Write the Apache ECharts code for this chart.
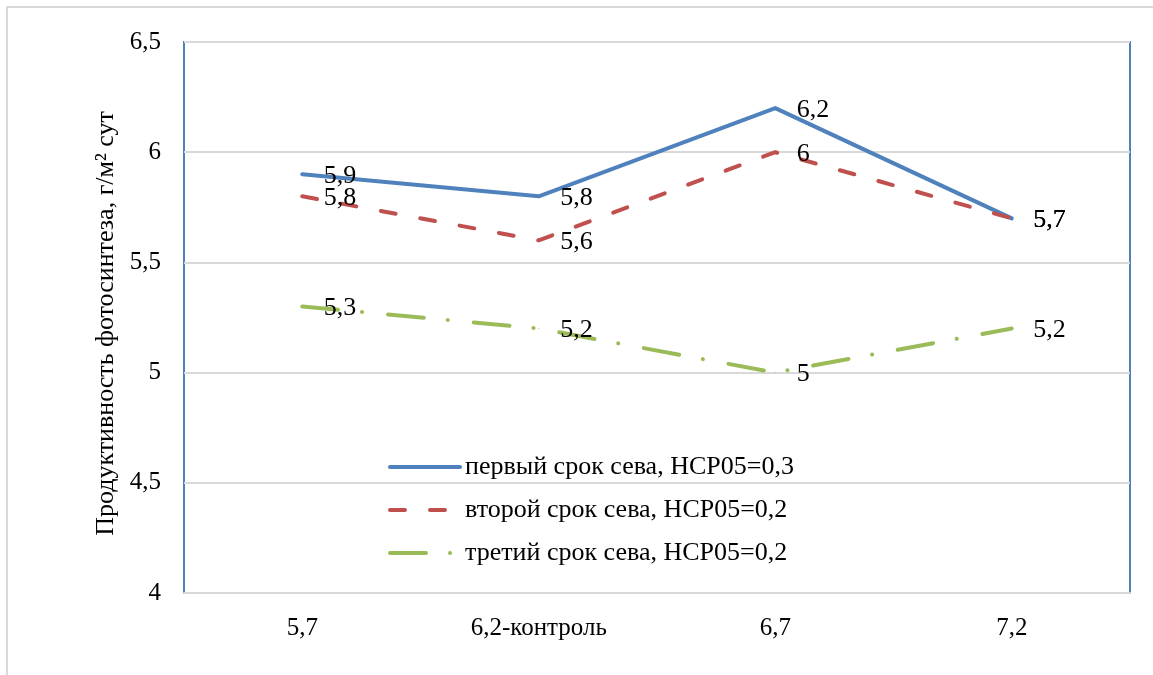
<!DOCTYPE html>
<html>
<head>
<meta charset="utf-8">
<script src="https://cdn.jsdelivr.net/npm/echarts@6/dist/echarts.min.js"></script>
<style>
  html, body { margin: 0; padding: 0; background: #fff; }
  #chart { width: 1153px; height: 675px; }
</style>
</head>
<body>
<div id="chart"></div>
<script>
// Row categories along the X axis
const categories = ['5,7', '6,2-контроль', '6,7', '7,2'];

// Series values, г/м² сут
const firstSowing = [5.9, 5.8, 6.2, 5.7];
const secondSowing = [5.8, 5.6, 6.0, 5.7];
const thirdSowing = [5.3, 5.2, 5.0, 5.2];

const seriesNames = [
  'первый срок сева, НСР05=0,3',
  'второй срок сева, НСР05=0,2',
  'третий срок сева, НСР05=0,2'
];

const FONT = '"Liberation Serif", "Times New Roman", serif';
const fmtComma = v => String(v).replace('.', ',');

function makeSeries(name, data, color, dash) {
  return {
    name: name,
    type: 'line',
    data: data,
    symbol: 'circle',
    symbolSize: 1,
    showSymbol: true,
    smooth: false,
    lineStyle: { color: color, width: 4, type: dash, cap: 'round', join: 'round' },
    itemStyle: { color: color },
    label: {
      show: true,
      position: 'right',
      distance: 21,
      offset: [0, 2],
      color: '#000',
      fontFamily: FONT,
      fontSize: 26,
      formatter: p => fmtComma(p.value)
    }
  };
}

const chart = echarts.init(document.getElementById('chart'));
chart.setOption({
  animation: false,
  backgroundColor: '#fff',
  graphic: [{
    type: 'rect',
    shape: { x: 7, y: 7, width: 1170, height: 700 },
    style: { fill: 'none', stroke: '#d9d9d9', lineWidth: 2 },
    z: -1
  }],
  grid: {
    left: 184, right: 23, top: 42, bottom: 82,
    show: true, borderColor: '#4F81BD', borderWidth: 2, backgroundColor: 'transparent'
  },
  legend: {
    orient: 'vertical',
    left: 383,
    top: 449,
    itemWidth: 70,
    itemHeight: 20,
    itemGap: 17,
    itemStyle: { opacity: 0 },
    lineStyle: { width: 4 },
    textStyle: { fontFamily: FONT, fontSize: 26, color: '#000' },
    data: seriesNames
  },
  xAxis: {
    type: 'category',
    data: categories,
    boundaryGap: true,
    axisLine: { show: true, lineStyle: { color: '#d9d9d9', width: 2 } },
    axisTick: { show: false },
    axisLabel: { fontFamily: FONT, fontSize: 25, color: '#000', margin: 23 }
  },
  yAxis: {
    type: 'value',
    min: 4,
    max: 6.5,
    interval: 0.5,
    name: 'Продуктивность фотосинтеза, г/м² сут',
    nameLocation: 'middle',
    nameGap: 64,
    nameTextStyle: { fontFamily: FONT, fontSize: 26, color: '#000', padding: [0, 12, 0, 0] },
    axisLine: { show: false },
    axisTick: { show: false },
    splitLine: { lineStyle: { color: '#d9d9d9', width: 2 } },
    axisLabel: { fontFamily: FONT, fontSize: 25, color: '#000', margin: 23, formatter: fmtComma }
  },
  series: [
    makeSeries(seriesNames[0], firstSowing, '#4F81BD', 'solid'),
    makeSeries(seriesNames[1], secondSowing, '#C0504D', [15, 25]),
    makeSeries(seriesNames[2], thirdSowing, '#9BBB59', [36, 24, 0.1, 26])
  ]
});
</script>
</body>
</html>
